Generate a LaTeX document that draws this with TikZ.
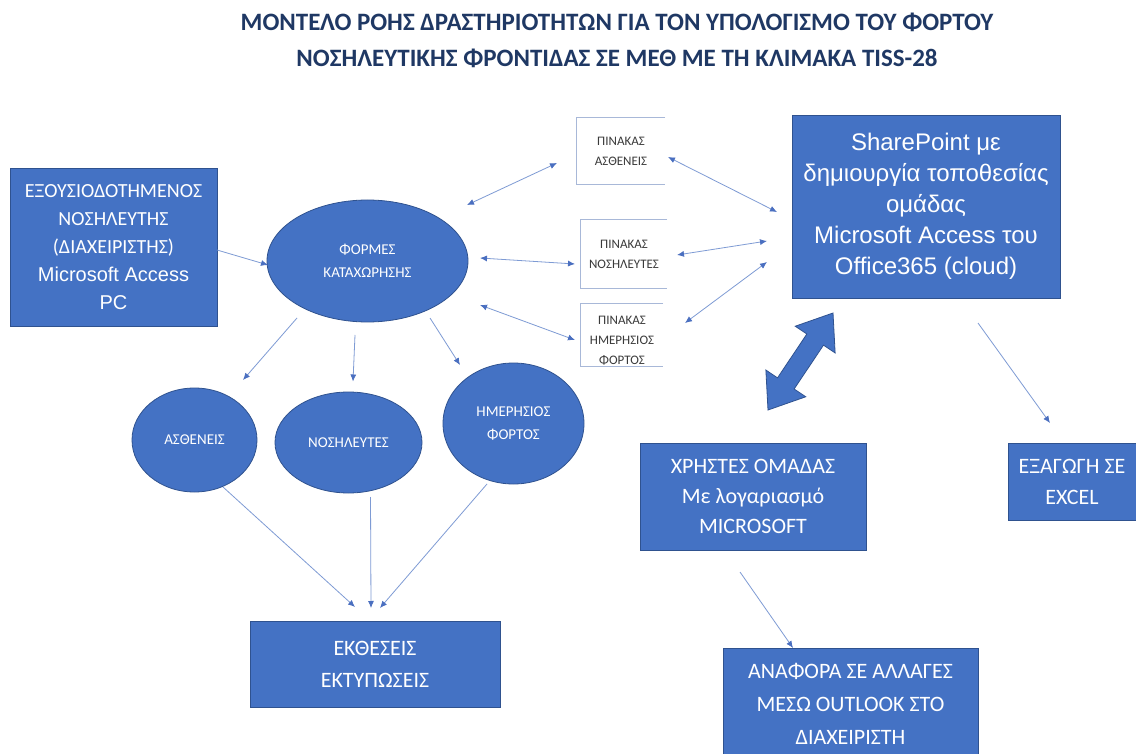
\documentclass[tikz,border=0pt]{standalone}
\usepackage{fontspec}
\setmainfont{Carlito}
\newfontfamily\arialf{Liberation Sans}
\usetikzlibrary{shapes.geometric,arrows.meta,calc}
\definecolor{boxblue}{HTML}{4472C4}
\definecolor{boxedge}{HTML}{2F528F}
\definecolor{navy}{HTML}{1F3864}
\definecolor{linkblue}{HTML}{7E9BD4}
\definecolor{headblue}{HTML}{4A6FC0}
\definecolor{tabline}{HTML}{A8B8D8}
\definecolor{tabtext}{HTML}{3A3A3A}
\tikzset{
 bluebox/.style={rectangle, fill=boxblue, draw=boxedge, line width=0.8pt, text=white, align=center, inner sep=0pt, font=\fontsize{20}{28}\selectfont},
 blueell/.style={ellipse, fill=boxblue, draw=boxedge, line width=0.8pt, text=white, align=center, inner sep=0pt, font=\fontsize{15}{23}\selectfont},
 tabnode/.style={rectangle, inner sep=0pt},
 tabtxt/.style={text=tabtext, align=center, font=\fontsize{13}{20}\selectfont},
 tabl/.style={draw=tabline, line width=1pt},
 conn/.style={draw=linkblue, line width=0.8pt, -{Latex[length=7pt,width=6pt,color=headblue]}},
 dconn/.style={draw=linkblue, line width=0.8pt, {Latex[length=7pt,width=6pt,color=headblue]}-{Latex[length=7pt,width=6pt,color=headblue]}},
}
\begin{document}
\begin{tikzpicture}[x=1pt,y=-1pt]
\useasboundingbox (0,0) rectangle (1136,754);
\fill[white] (0,0) rectangle (1136,754);

\node[font=\bfseries\fontsize{25}{36}\selectfont, text=navy, align=center] (title) at (617,40)
  {ΜΟΝΤΕΛΟ ΡΟΗΣ ΔΡΑΣΤΗΡΙΟΤΗΤΩΝ ΓΙΑ ΤΟΝ ΥΠΟΛΟΓΙΣΜΟ ΤΟΥ ΦΟΡΤΟΥ\\ΝΟΣΗΛΕΥΤΙΚΗΣ ΦΡΟΝΤΙΔΑΣ ΣΕ ΜΕΘ ΜΕ ΤΗ ΚΛΙΜΑΚΑ TISS-28};

% boxes
\node[bluebox, minimum width=207, minimum height=158] (adm) at (113.5,247)
  {ΕΞΟΥΣΙΟΔΟΤΗΜΕΝΟΣ\\ΝΟΣΗΛΕΥΤΗΣ\\(ΔΙΑΧΕΙΡΙΣΤΗΣ)\\{\arialf Microsoft Access}\\{\arialf PC}};
\node[bluebox, minimum width=268, minimum height=183, font=\arialf\fontsize{24}{31}\selectfont] (sp) at (926,206.5)
  {SharePoint με\\δημιουργία τοποθεσίας\\ομάδας\\Microsoft Access του\\Office365 (cloud)};
\node[bluebox, minimum width=250, minimum height=86, font=\fontsize{22}{32}\selectfont] (rep) at (375,664)
  {ΕΚΘΕΣΕΙΣ\\ΕΚΤΥΠΩΣΕΙΣ};
\node[bluebox, minimum width=226, minimum height=107, font=\fontsize{22}{30}\selectfont] (usr) at (753,496.5)
  {ΧΡΗΣΤΕΣ ΟΜΑΔΑΣ\\Με λογαριασμό\\MICROSOFT};
\node[bluebox, minimum width=128, minimum height=77, font=\fontsize{22}{31}\selectfont] (exp) at (1072,481.5)
  {ΕΞΑΓΩΓΗ ΣΕ\\EXCEL};
\node[bluebox, minimum width=255, minimum height=112, font=\fontsize{22}{33}\selectfont] (ana) at (850.5,704)
  {ΑΝΑΦΟΡΑ ΣΕ ΑΛΛΑΓΕΣ\\ΜΕΣΩ OUTLOOK ΣΤΟ\\ΔΙΑΧΕΙΡΙΣΤΗ};

% ellipses
\node[blueell, minimum width=201, minimum height=122] (form) at (367.5,261) {ΦΟΡΜΕΣ\\ΚΑΤΑΧΩΡΗΣΗΣ};
\node[blueell, minimum width=125, minimum height=104] (e1) at (194.5,440) {ΑΣΘΕΝΕΙΣ};
\node[blueell, minimum width=147, minimum height=101] (e2) at (348.5,442.5) {ΝΟΣΗΛΕΥΤΕΣ};
\node[blueell, minimum width=141, minimum height=121] (e3) at (513.5,423.5) {ΗΜΕΡΗΣΙΟΣ\\ΦΟΡΤΟΣ};

% tables (data stores)
\node[tabnode, minimum width=88, minimum height=67, label={[tabtxt]center:{ΠΙΝΑΚΑΣ\\ΑΣΘΕΝΕΙΣ}}] (t1) at (621,151) {};
\node[tabnode, minimum width=86, minimum height=68, label={[tabtxt]center:{ΠΙΝΑΚΑΣ\\ΝΟΣΗΛΕΥΤΕΣ}}] (t2) at (624,254) {};
\node[tabnode, minimum width=82, minimum height=62, label={[tabtxt, yshift=-6pt]center:{ΠΙΝΑΚΑΣ\\ΗΜΕΡΗΣΙΟΣ\\ΦΟΡΤΟΣ}}] (t3) at (622,335) {};
\foreach \t in {t1,t2,t3}
  \draw[tabl] (\t.north east) -- (\t.north west) -- (\t.south west) -- (\t.south east);

% connectors
\draw[conn]  ([shift={(103.5,3)}]adm.center) -- ([shift={(-99.5,4)}]form.center);
\draw[dconn] ([shift={(99.5,-56)}]form.center) -- ([shift={(-64,12)}]t1.center);
\draw[dconn] ([shift={(112.5,-3)}]form.center) -- ([shift={(-49,10)}]t2.center);
\draw[dconn] ([shift={(112.5,44)}]form.center) -- ([shift={(-47,5)}]t3.center);
\draw[dconn] ([shift={(47,6)}]t1.center) -- ([shift={(-149,5.5)}]sp.center);
\draw[dconn] ([shift={(53,1)}]t2.center) -- ([shift={(-159,34.5)}]sp.center);
\draw[dconn] ([shift={(63,-12)}]t3.center) -- ([shift={(-159,55.5)}]sp.center);
\draw[conn]  ([shift={(-70.5,57)}]form.center) -- ([shift={(48.5,-60)}]e1.center);
\draw[conn]  ([shift={(-12.5,74)}]form.center) -- ([shift={(4.5,-61)}]e2.center);
\draw[conn]  ([shift={(62.5,57)}]form.center) -- ([shift={(-53.5,-58.5)}]e3.center);
\draw[conn]  ([shift={(28.5,47)}]e1.center) -- ([shift={(-20,-57)}]rep.center);
\draw[conn]  ([shift={(22,54.5)}]e2.center) -- ([shift={(-4,-56)}]rep.center);
\draw[conn]  ([shift={(-26.5,60.5)}]e3.center) -- ([shift={(5,-56)}]rep.center);
\draw[conn]  ([shift={(52,116.5)}]sp.center) -- ([shift={(-22,-58.5)}]exp.center);
\draw[conn]  ([shift={(-13,75.5)}]usr.center) -- ([shift={(-57.5,-56)}]ana.center);

% big double block arrow between SharePoint and users
\coordinate (dU) at (833,313);
\coordinate (dL) at (768,410);
\coordinate (hu) at ($(dU)!32pt!(dL)$);
\coordinate (hl) at ($(dL)!32pt!(dU)$);
\filldraw[fill=boxblue, draw=boxedge, line width=0.8pt, line join=miter]
  (dU) -- ($(hu)!24pt!90:(dU)$) -- ($(hu)!10pt!90:(dU)$) -- ($(hl)!10pt!-90:(dL)$) -- ($(hl)!24pt!-90:(dL)$)
  -- (dL) -- ($(hl)!24pt!90:(dL)$) -- ($(hl)!10pt!90:(dL)$) -- ($(hu)!10pt!-90:(dU)$) -- ($(hu)!24pt!-90:(dU)$) -- cycle;
\end{tikzpicture}
\end{document}
